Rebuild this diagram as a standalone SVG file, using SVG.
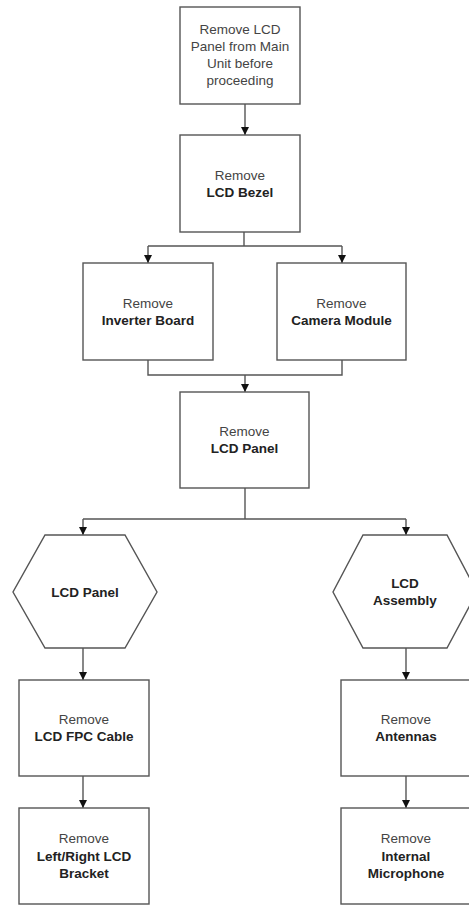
<svg xmlns="http://www.w3.org/2000/svg" width="469" height="905" viewBox="0 0 469 905">
<style>
.box{fill:#fff;stroke:#555;stroke-width:1.4}
.ln{fill:none;stroke:#555;stroke-width:1.4}
text{font-family:"Liberation Sans",Arial,sans-serif;font-size:13.5px;text-anchor:middle}
.r{fill:#444}
.b{fill:#222;font-weight:bold}
</style>
<defs>
<marker id="arr" markerUnits="userSpaceOnUse" markerWidth="8" markerHeight="8" viewBox="0 0 8 8" refX="8" refY="4" orient="auto">
<path d="M0,0 L8,4 L0,8 Z" fill="#111"/>
</marker>
</defs>
<g id="connectors">
<line class="ln" x1="245" y1="104" x2="245" y2="135" marker-end="url(#arr)"/>
<polyline class="ln" points="244,232 244,246"/>
<line class="ln" x1="148" y1="246" x2="342" y2="246"/>
<line class="ln" x1="148" y1="246" x2="148" y2="263" marker-end="url(#arr)"/>
<line class="ln" x1="342" y1="246" x2="342" y2="263" marker-end="url(#arr)"/>
<polyline class="ln" points="148,360 148,375 342,375 342,360"/>
<line class="ln" x1="245" y1="375" x2="245" y2="392" marker-end="url(#arr)"/>
<line class="ln" x1="245" y1="488" x2="245" y2="519"/>
<line class="ln" x1="83" y1="519" x2="406" y2="519"/>
<line class="ln" x1="83" y1="519" x2="83" y2="535" marker-end="url(#arr)"/>
<line class="ln" x1="406" y1="519" x2="406" y2="535" marker-end="url(#arr)"/>
<line class="ln" x1="83" y1="648" x2="83" y2="680" marker-end="url(#arr)"/>
<line class="ln" x1="83" y1="776" x2="83" y2="808" marker-end="url(#arr)"/>
<line class="ln" x1="406" y1="648" x2="406" y2="680" marker-end="url(#arr)"/>
<line class="ln" x1="406" y1="776" x2="406" y2="808" marker-end="url(#arr)"/>
</g>
<g id="n1">
<rect class="box" x="180" y="7" width="120" height="97"/>
<text class="r" x="240" y="34">Remove LCD</text>
<text class="r" x="240" y="51">Panel from Main</text>
<text class="r" x="240" y="68">Unit before</text>
<text class="r" x="240" y="85">proceeding</text>
</g>
<g id="n2">
<rect class="box" x="180" y="135" width="120" height="97"/>
<text class="r" x="240" y="180">Remove</text>
<text class="b" x="240" y="197">LCD Bezel</text>
</g>
<g id="n3">
<rect class="box" x="83" y="263" width="130" height="97"/>
<text class="r" x="148" y="308">Remove</text>
<text class="b" x="148" y="325">Inverter Board</text>
</g>
<g id="n4">
<rect class="box" x="277" y="263" width="129" height="97"/>
<text class="r" x="341.5" y="308">Remove</text>
<text class="b" x="341.5" y="325">Camera Module</text>
</g>
<g id="n5">
<rect class="box" x="180" y="392" width="129" height="96"/>
<text class="r" x="244.5" y="436">Remove</text>
<text class="b" x="244.5" y="453">LCD Panel</text>
</g>
<g id="n6">
<polygon class="box" points="45,535 125,535 157,592 125,648 45,648 13,592"/>
<text class="b" x="85" y="597">LCD Panel</text>
</g>
<g id="n7">
<polygon class="box" points="363,535 447,535 477,592 447,648 363,648 333,592"/>
<text class="b" x="405" y="588">LCD</text>
<text class="b" x="405" y="605">Assembly</text>
</g>
<g id="n8">
<rect class="box" x="19" y="680" width="130" height="96"/>
<text class="r" x="84" y="724">Remove</text>
<text class="b" x="84" y="741">LCD FPC Cable</text>
</g>
<g id="n9">
<rect class="box" x="19" y="808" width="130" height="96"/>
<text class="r" x="84" y="843">Remove</text>
<text class="b" x="84" y="861">Left/Right LCD</text>
<text class="b" x="84" y="878">Bracket</text>
</g>
<g id="n10">
<rect class="box" x="341" y="680" width="130" height="96"/>
<text class="r" x="406" y="724">Remove</text>
<text class="b" x="406" y="741">Antennas</text>
</g>
<g id="n11">
<rect class="box" x="341" y="808" width="130" height="96"/>
<text class="r" x="406" y="843">Remove</text>
<text class="b" x="406" y="861">Internal</text>
<text class="b" x="406" y="878">Microphone</text>
</g>
</svg>
